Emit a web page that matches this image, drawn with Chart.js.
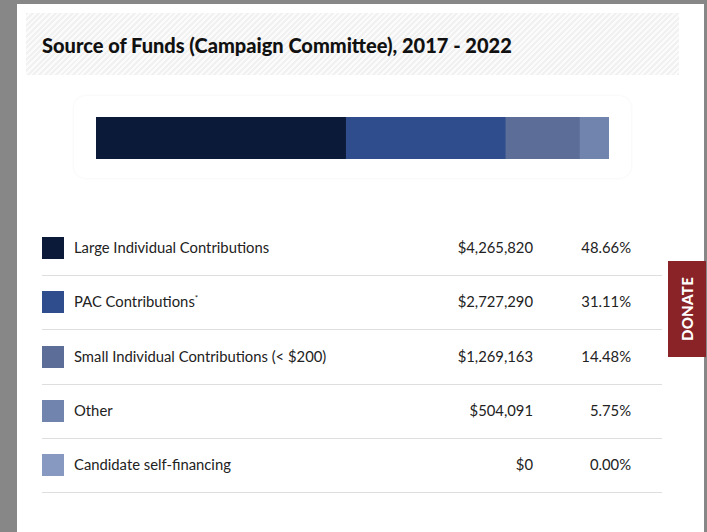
<!DOCTYPE html>
<html>
<head>
<meta charset="utf-8">
<script src="https://cdn.jsdelivr.net/npm/chart.js@4"></script>
<style>
  html, body { margin: 0; padding: 0; }
  body { width: 707px; height: 532px; background: #878787; position: relative; overflow: hidden; font-family: Lato, "Open Sans", sans-serif; }
  #card { position: absolute; left: 17px; top: 4px; width: 687px; height: 528px; background: #fff; }
  #titleBand {
    position: absolute; left: 26px; top: 13px; width: 653px; height: 62px;
    background: repeating-linear-gradient(135deg, #f1f1f1 0px, #f1f1f1 2px, #fbfbfb 2px, #fbfbfb 4px);
  }
  #titleBand h2 { margin: 0; position: absolute; left: 16px; top: 20px; font-size: 20px; font-weight: 900; color: #111; letter-spacing: 0px; }
  #barBox { position: absolute; left: 74px; top: 96px; width: 557px; height: 82px; border-radius: 12px; box-shadow: 0 0 3px rgba(0,0,0,0.06); background: #fff; }
  #barWrap { position: absolute; left: 96px; top: 117px; width: 513px; height: 42px; }
  .row { position: absolute; left: 42px; width: 620px; height: 54px; border-bottom: 1px solid #dedede; font-size: 14.8px; color: #222; }
  .row .sw { position: absolute; left: 0; top: 16px; width: 22px; height: 22px; }
  .row .lbl { position: absolute; left: 32px; top: 17px; }
  .row .amt { position: absolute; right: 129px; top: 17px; text-align: right; }
  .row .pct { position: absolute; right: 31px; top: 17px; text-align: right; }
  #donate { position: absolute; left: 668px; top: 261px; width: 38px; height: 96px; background: #8a2328; }
  #donate span { position: absolute; left: 50%; top: 50%; transform: translate(-50%, -50%) rotate(-90deg); color: #fff; font-weight: 900; font-size: 15px; letter-spacing: 0.3px; white-space: nowrap; }
</style>
</head>
<body>
<div id="card"></div>
<div id="titleBand"><h2>Source of Funds (Campaign Committee), 2017 - 2022</h2></div>
<div id="barBox"></div>
<div id="barWrap"><canvas id="bar"></canvas></div>
<div id="rows"></div>
<div id="donate"><span>DONATE</span></div>
<script>
const categories = ['Large Individual Contributions', 'PAC Contributions*', 'Small Individual Contributions (< $200)', 'Other', 'Candidate self-financing'];
const amounts = [4265820, 2727290, 1269163, 504091, 0];
const percents = [48.66, 31.11, 14.48, 5.75, 0.00];
const colors = ['#0b1a38', '#2f4d8c', '#5c6e97', '#7084ad', '#8799c0'];

const rows = document.getElementById('rows');
categories.forEach(function(cat, i) {
    const row = document.createElement('div');
    row.className = 'row';
    row.style.top = (221 + i * 54.3) + 'px';
    const sw = document.createElement('div');
    sw.className = 'sw';
    sw.style.background = colors[i];
    const lbl = document.createElement('div');
    lbl.className = 'lbl';
    if (cat.endsWith('*')) {
        lbl.innerHTML = cat.slice(0, -1) + '<sup style="font-size:8px">*</sup>';
    } else {
        lbl.textContent = cat;
    }
    const amt = document.createElement('div');
    amt.className = 'amt';
    amt.textContent = '$' + amounts[i].toLocaleString('en-US');
    const pct = document.createElement('div');
    pct.className = 'pct';
    pct.textContent = percents[i].toFixed(2) + '%';
    row.appendChild(sw);
    row.appendChild(lbl);
    row.appendChild(amt);
    row.appendChild(pct);
    rows.appendChild(row);
});

new Chart(document.getElementById('bar'), {
    type: 'bar',
    data: {
        labels: ['funds'],
        datasets: categories.map(function(cat, i) {
            return {
                label: cat,
                data: [percents[i]],
                backgroundColor: colors[i],
                borderWidth: 0,
                barPercentage: 1,
                categoryPercentage: 1
            };
        })
    },
    options: {
        indexAxis: 'y',
        responsive: true,
        maintainAspectRatio: false,
        animation: false,
        layout: { padding: 0 },
        scales: {
            x: { stacked: true, display: false, min: 0, max: percents.reduce((a, b) => a + b, 0) },
            y: { stacked: true, display: false }
        },
        plugins: { legend: { display: false }, tooltip: { enabled: false } }
    }
});
</script>
</body>
</html>
